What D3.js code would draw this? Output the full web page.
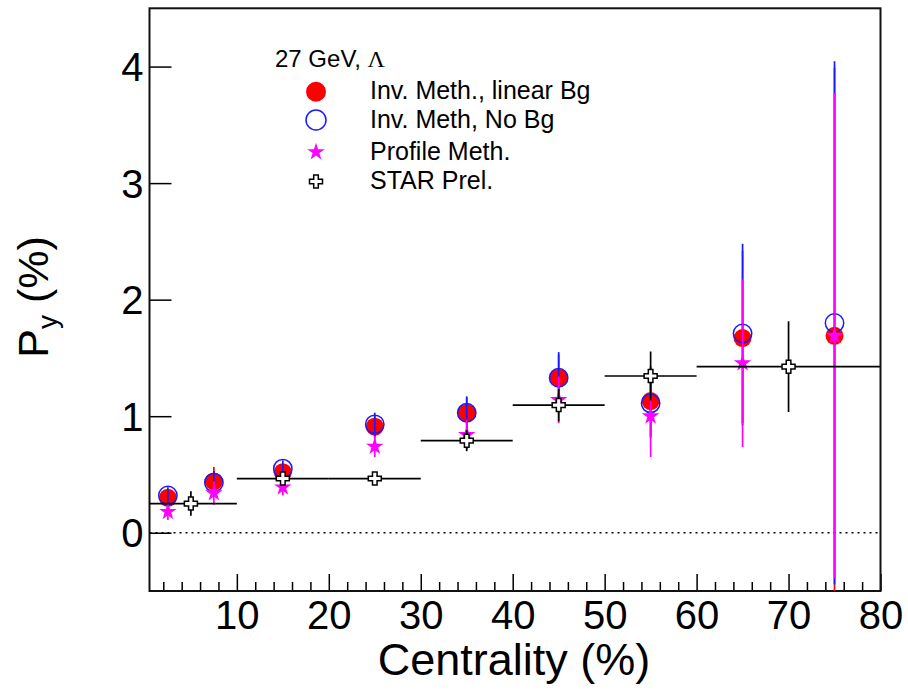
<!DOCTYPE html>
<html>
<head>
<meta charset="utf-8">
<script src="https://cdn.jsdelivr.net/npm/d3@7"></script>
<style>
  html, body { margin: 0; padding: 0; background: #fff; }
  svg { display: block; font-family: "Liberation Sans", Arial, sans-serif; }
</style>
</head>
<body>
<svg id="chart" width="908" height="693"></svg>
<script>
// ---- data ----
const centers      = [2.5, 7.5, 15, 25, 35, 45, 55, 65, 75];
const invLinear    = [0.30, 0.44, 0.52, 0.91, 1.03, 1.33, 1.13, 1.67, 1.69];
const invLinearErr = [0.07, 0.125, 0.07, 0.10, 0.13, 0.20, 0.30, 0.75, 2.30];
const invNoBg      = [0.32, 0.43, 0.55, 0.93, 1.03, 1.33, 1.11, 1.71, 1.80];
const invNoBgErr   = [0.07, 0.10, 0.07, 0.10, 0.14, 0.22, 0.30, 0.77, 2.245];
const profile      = [0.18, 0.34, 0.39, 0.74, 0.84, 1.14, 1.00, 1.455, 1.69];
const profileErr   = [0.07, 0.10, 0.07, 0.09, 0.13, 0.20, 0.35, 0.72, 2.08];

const starLow  = [0, 10, 20, 30, 40, 50, 60];
const starHigh = [10, 20, 30, 40, 50, 60, 80];
const starVal  = [0.25, 0.465, 0.465, 0.79, 1.095, 1.345, 1.425];
const starErr  = [0.105, 0.04, 0.04, 0.09, 0.14, 0.21, 0.39];

const xMajorTicks = [10, 20, 30, 40, 50, 60, 70, 80];
const xMinorTicks = [2,4,6,8,12,14,16,18,22,24,26,28,32,34,36,38,42,44,46,48,52,54,56,58,62,64,66,68,72,74,76,78];
const yTicks = [0, 1, 2, 3, 4];

const legendHeader = "27 GeV, ";
const legendLabels = ["Inv. Meth., linear Bg", "Inv. Meth, No Bg", "Profile Meth.", "STAR Prel."];

// ---- layout ----
const svg = d3.select("#chart");
const L = 149.5, R = 880.5, T = 8.3, B = 591;
const x = d3.scaleLinear().domain([0.5, 80]).range([L, R]);
const y = d3.scaleLinear().domain([-0.5, 4.5]).range([B, T]);

svg.append("defs").append("clipPath").attr("id", "clip")
  .append("rect").attr("x", L).attr("y", T).attr("width", R - L).attr("height", B - T);

// zero dotted line
svg.append("line")
  .attr("x1", L).attr("x2", R).attr("y1", y(0)).attr("y2", y(0))
  .attr("stroke", "#000").attr("stroke-width", 1.5).attr("stroke-dasharray", "2,4");

// axes
const xAxisMajor = d3.axisBottom(x).tickValues(xMajorTicks).tickSizeInner(-17).tickSizeOuter(0).tickPadding(9.5)
  .tickFormat(d3.format("d"));
const gx = svg.append("g").attr("transform", `translate(0,${B})`).call(xAxisMajor);
gx.select(".domain").remove();
gx.selectAll("line").attr("stroke", "#000").attr("stroke-width", 1.5);
gx.selectAll("text").attr("font-size", 40).attr("font-family", "Liberation Sans, Arial, sans-serif").attr("fill", "#000");

const xAxisMinor = d3.axisBottom(x).tickValues(xMinorTicks).tickSizeInner(-9).tickSizeOuter(0).tickFormat("");
const gxm = svg.append("g").attr("transform", `translate(0,${B})`).call(xAxisMinor);
gxm.select(".domain").remove();
gxm.selectAll("line").attr("stroke", "#000").attr("stroke-width", 1.5);

const yAxis = d3.axisLeft(y).tickValues(yTicks).tickSizeInner(-22).tickSizeOuter(0).tickPadding(6)
  .tickFormat(d3.format("d"));
const gy = svg.append("g").attr("transform", `translate(${L},0)`).call(yAxis);
gy.select(".domain").remove();
gy.selectAll("line").attr("stroke", "#000").attr("stroke-width", 1.5);
gy.selectAll("text").attr("font-size", 40).attr("font-family", "Liberation Sans, Arial, sans-serif").attr("fill", "#000").attr("dy", "0.35em");

// frame
svg.append("rect").attr("x", L).attr("y", T).attr("width", R - L).attr("height", B - T)
  .attr("fill", "none").attr("stroke", "#111").attr("stroke-width", 2);

// axis titles
svg.append("text").attr("x", 514).attr("y", 675).attr("text-anchor", "middle")
  .attr("font-size", 45).attr("fill", "#000").text("Centrality (%)");

const yt = svg.append("text").attr("transform", "translate(48,297) rotate(-90)")
  .attr("text-anchor", "middle").attr("font-size", 43).attr("fill", "#000");
yt.append("tspan").text("P");
yt.append("tspan").attr("font-size", 28).attr("dy", 9).text("y");
yt.append("tspan").attr("dy", -9).text(" (%)");

// ---- markers ----
const plot = svg.append("g").attr("clip-path", "url(#clip)");
const starSym = d3.symbol().type(d3.symbolStar).size(95);
const crossPath = (h, a) =>
  `M${-a},${-h}L${a},${-h}L${a},${-a}L${h},${-a}L${h},${a}L${a},${a}L${a},${h}L${-a},${h}L${-a},${a}L${-h},${a}L${-h},${-a}L${-a},${-a}Z`;

function drawErrors(vals, errs, color) {
  plot.append("g").selectAll("line").data(centers).join("line")
    .attr("x1", d => x(d)).attr("x2", d => x(d))
    .attr("y1", (d, i) => y(vals[i] - errs[i])).attr("y2", (d, i) => y(vals[i] + errs[i]))
    .attr("stroke", color).attr("stroke-width", 1.7);
}

// red: Inv. Meth., linear Bg
drawErrors(invLinear, invLinearErr, "#ff0000");
plot.append("g").selectAll("circle").data(centers).join("circle")
  .attr("cx", d => x(d)).attr("cy", (d, i) => y(invLinear[i])).attr("r", 9)
  .attr("fill", "#ff0000");

// blue: Inv. Meth, No Bg
drawErrors(invNoBg, invNoBgErr, "#1a1aff");
plot.append("g").selectAll("circle").data(centers).join("circle")
  .attr("cx", d => x(d)).attr("cy", (d, i) => y(invNoBg[i])).attr("r", 9.2)
  .attr("fill", "none").attr("stroke", "#1a1aff").attr("stroke-width", 1.5);

// magenta: Profile Meth.
drawErrors(profile, profileErr, "#ff00ff");
plot.append("g").selectAll("path").data(centers).join("path")
  .attr("transform", (d, i) => `translate(${x(d)},${y(profile[i])})`)
  .attr("d", starSym()).attr("fill", "#ff00ff");

// STAR Prel.
const sg = plot.append("g");
sg.selectAll("line.h").data(starVal).join("line").attr("class", "h")
  .attr("x1", (d, i) => x(starLow[i])).attr("x2", (d, i) => x(starHigh[i]))
  .attr("y1", d => y(d)).attr("y2", d => y(d))
  .attr("stroke", "#000").attr("stroke-width", 1.7);
sg.selectAll("line.v").data(starVal).join("line").attr("class", "v")
  .attr("x1", (d, i) => x((starLow[i] + starHigh[i]) / 2)).attr("x2", (d, i) => x((starLow[i] + starHigh[i]) / 2))
  .attr("y1", (d, i) => y(d - starErr[i])).attr("y2", (d, i) => y(d + starErr[i]))
  .attr("stroke", "#000").attr("stroke-width", 1.7);
sg.selectAll("path").data(starVal).join("path")
  .attr("transform", (d, i) => `translate(${x((starLow[i] + starHigh[i]) / 2)},${y(d)})`)
  .attr("d", crossPath(6.5, 2.3)).attr("fill", "#fff").attr("stroke", "#000").attr("stroke-width", 1.5);

// ---- legend ----
const lg = svg.append("g");
const hdr = lg.append("text").attr("x", 275).attr("y", 67).attr("font-size", 24).attr("fill", "#000");
hdr.append("tspan").text(legendHeader);
hdr.append("tspan").attr("font-family", "Liberation Serif, DejaVu Serif, serif").text("\u039B");

const rowY = [91.7, 120, 152, 181.5];
const mx = 316;
lg.append("circle").attr("cx", mx).attr("cy", rowY[0]).attr("r", 10).attr("fill", "#ff0000");
lg.append("circle").attr("cx", mx).attr("cy", rowY[1]).attr("r", 10).attr("fill", "none")
  .attr("stroke", "#1a1aff").attr("stroke-width", 1.5);
lg.append("path").attr("transform", `translate(${mx},${rowY[2]})`).attr("d", starSym()).attr("fill", "#ff00ff");
lg.append("path").attr("transform", `translate(${mx},${rowY[3]})`).attr("d", crossPath(6.5, 2.3))
  .attr("fill", "#fff").attr("stroke", "#000").attr("stroke-width", 1.5);
lg.selectAll("text.lbl").data(legendLabels).join("text").attr("class", "lbl")
  .attr("x", 370).attr("y", (d, i) => rowY[i] + 7.5)
  .attr("font-size", 25).attr("fill", "#000").text(d => d);
</script>
</body>
</html>
